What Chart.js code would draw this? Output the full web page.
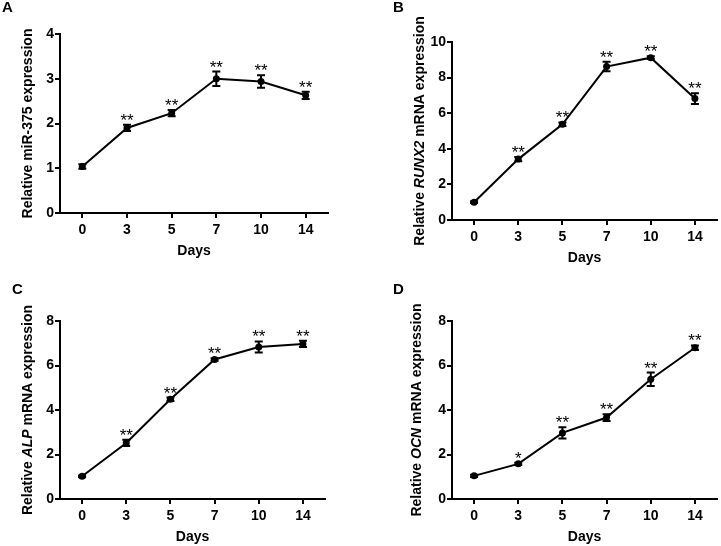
<!DOCTYPE html>
<html>
<head>
<meta charset="utf-8">
<script src="https://cdn.jsdelivr.net/npm/chart.js@4"></script>
<style>
  body { margin: 0; background: #fff; }
  .panel { position: absolute; }
</style>
</head>
<body>
<div class="panel" style="left:0;top:0"><canvas id="chartA" width="360" height="273"></canvas></div>
<div class="panel" style="left:360px;top:0"><canvas id="chartB" width="361" height="273"></canvas></div>
<div class="panel" style="left:0;top:273px"><canvas id="chartC" width="360" height="273"></canvas></div>
<div class="panel" style="left:360px;top:273px"><canvas id="chartD" width="361" height="273"></canvas></div>
<script>
// days of differentiation
var days = ['0', '3', '5', '7', '10', '14'];

// A: miR-375
var mirMean = [1.04, 1.9, 2.23, 3.0, 2.94, 2.63];
var mirSem = [0.05, 0.07, 0.07, 0.16, 0.14, 0.08];
var mirStars = ['', '**', '**', '**', '**', '**'];

// B: RUNX2
var runxMean = [1.0, 3.42, 5.38, 8.62, 9.12, 6.82];
var runxSem = [0.05, 0.12, 0.1, 0.27, 0.08, 0.3];
var runxStars = ['', '**', '**', '**', '**', '**'];

// C: ALP
var alpMean = [1.02, 2.52, 4.48, 6.27, 6.83, 6.97];
var alpSem = [0.04, 0.14, 0.08, 0.06, 0.25, 0.14];
var alpStars = ['', '**', '**', '**', '**', '**'];

// D: OCN
var ocnMean = [1.04, 1.58, 2.97, 3.66, 5.38, 6.8];
var ocnSem = [0.05, 0.05, 0.25, 0.15, 0.3, 0.1];
var ocnStars = ['', '*', '**', '**', '**', '**'];

var FONT = '"Liberation Sans", Arial, sans-serif';

// error bars, asterisks, axis titles and panel letter
var decoPlugin = {
    id: 'deco',
    afterDatasetsDraw: function (chart, args, o) {
        var ctx = chart.ctx;
        var yScale = chart.scales.y;
        var meta = chart.getDatasetMeta(0);
        var area = chart.chartArea;
        var vals = chart.data.datasets[0].data;
        ctx.save();
        ctx.strokeStyle = '#000';
        ctx.fillStyle = '#000';
        ctx.lineWidth = 2;
        o.sem.forEach(function (s, i) {
            var px = meta.data[i].x;
            var top = yScale.getPixelForValue(vals[i] + s);
            var bot = yScale.getPixelForValue(vals[i] - s);
            ctx.beginPath();
            ctx.moveTo(px, top); ctx.lineTo(px, bot);
            ctx.moveTo(px - 4, top); ctx.lineTo(px + 4, top);
            ctx.moveTo(px - 4, bot); ctx.lineTo(px + 4, bot);
            ctx.stroke();
            if (o.stars[i]) {
                ctx.font = '17px ' + FONT;
                ctx.textAlign = 'center';
                ctx.textBaseline = 'alphabetic';
                ctx.fillText(o.stars[i], px, top + 1);
            }
        });

        // x title
        ctx.font = 'bold 14px ' + FONT;
        ctx.textAlign = 'center';
        ctx.textBaseline = 'middle';
        ctx.fillText('Days', (area.left + area.right) / 2, area.bottom + 38);

        // y title with italic gene name
        var parts = o.yTitle;
        var widths = parts.map(function (p) {
            ctx.font = (p.i ? 'italic ' : '') + 'bold 14px ' + FONT;
            return ctx.measureText(p.t).width;
        });
        var total = widths.reduce(function (a, b) { return a + b; }, 0);
        ctx.translate(o.titleX, (area.top + area.bottom) / 2);
        ctx.rotate(-Math.PI / 2);
        ctx.textAlign = 'left';
        var x = -total / 2;
        parts.forEach(function (p, i) {
            ctx.font = (p.i ? 'italic ' : '') + 'bold 14px ' + FONT;
            ctx.fillText(p.t, x, 0);
            x += widths[i];
        });
        ctx.restore();

        // panel letter
        ctx.save();
        ctx.font = 'bold 15px ' + FONT;
        ctx.textAlign = 'left';
        ctx.textBaseline = 'middle';
        ctx.fillText(o.letter, o.letterX, o.letterY);
        ctx.restore();
    }
};

function makePanel(id, mean, sem, stars, yMax, yStep, yTitle, box) {
    var ctx = document.getElementById(id).getContext('2d');
    return new Chart(ctx, {
        type: 'line',
        data: {
            labels: days,
            datasets: [{
                data: mean,
                borderColor: '#000',
                backgroundColor: '#000',
                borderWidth: 2,
                pointRadius: 3.5,
                pointBorderWidth: 0,
                tension: 0
            }]
        },
        options: {
            responsive: false,
            animation: false,
            events: [],
            layout: { padding: { top: box.top, right: box.right, left: 0, bottom: 0 } },
            plugins: {
                legend: { display: false },
                tooltip: { enabled: false },
                deco: { sem: sem, stars: stars, yTitle: yTitle, titleX: box.titleX,
                        letter: box.letter, letterX: box.letterX, letterY: box.letterY }
            },
            scales: {
                x: {
                    offset: true,
                    afterFit: function (s) { s.height = box.xh; },
                    grid: { drawOnChartArea: false, drawTicks: true, tickLength: 5, color: '#000', lineWidth: 2, offset: false },
                    border: { display: true, color: '#000', width: 2 },
                    ticks: { color: '#000', padding: 4, font: { family: FONT, size: 14, weight: 'bold' } }
                },
                y: {
                    min: 0,
                    max: yMax,
                    afterFit: function (s) { s.width = box.yw; },
                    grid: { drawOnChartArea: false, drawTicks: true, tickLength: 5, color: '#000', lineWidth: 2 },
                    border: { display: true, color: '#000', width: 2 },
                    ticks: { stepSize: yStep, color: '#000', padding: 1, font: { family: FONT, size: 14, weight: 'bold' } }
                }
            }
        },
        plugins: [decoPlugin]
    });
}

makePanel('chartA', mirMean, mirSem, mirStars, 4, 1,
    [{ t: 'Relative miR-375 expression', i: false }],
    { top: 34, right: 32, yw: 60, xh: 60, titleX: 28, letter: 'A', letterX: 2, letterY: 8 });

makePanel('chartB', runxMean, runxSem, runxStars, 10, 2,
    [{ t: 'Relative ', i: false }, { t: 'RUNX2', i: true }, { t: ' mRNA expression', i: false }],
    { top: 42, right: 1, yw: 92, xh: 53, titleX: 60, letter: 'B', letterX: 33, letterY: 8 });

makePanel('chartC', alpMean, alpSem, alpStars, 8, 2,
    [{ t: 'Relative ', i: false }, { t: 'ALP', i: true }, { t: ' mRNA expression', i: false }],
    { top: 48, right: 35, yw: 60, xh: 47, titleX: 28, letter: 'C', letterX: 12, letterY: 17 });

makePanel('chartD', ocnMean, ocnSem, ocnStars, 8, 2,
    [{ t: 'Relative ', i: false }, { t: 'OCN', i: true }, { t: ' mRNA expression', i: false }],
    { top: 48, right: 1, yw: 92, xh: 47, titleX: 57, letter: 'D', letterX: 33, letterY: 17 });
</script>
</body>
</html>
